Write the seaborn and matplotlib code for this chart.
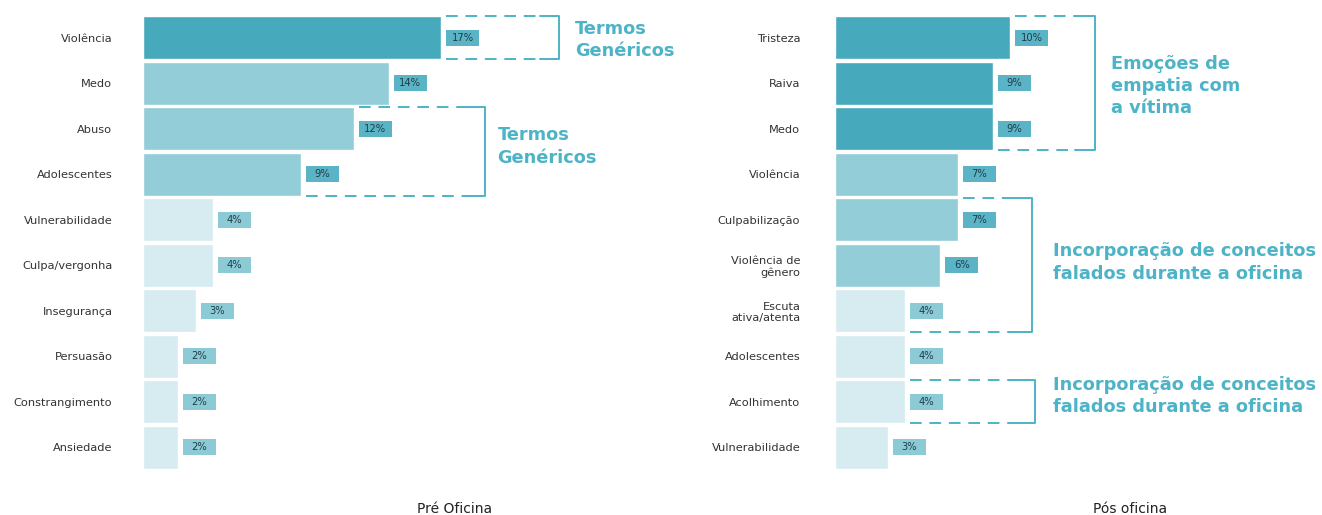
import pandas as pd
import matplotlib.pyplot as plt
import seaborn as sns
from matplotlib.patches import Rectangle

# Data (percent of mentions)
pre_labels = ["Violência", "Medo", "Abuso", "Adolescentes", "Vulnerabilidade",
              "Culpa/vergonha", "Insegurança", "Persuasão", "Constrangimento", "Ansiedade"]
pre_values = [17, 14, 12, 9, 4, 4, 3, 2, 2, 2]

pos_labels = ["Tristeza", "Raiva", "Medo", "Violência", "Culpabilização",
              "Violência de\ngênero", "Escuta\nativa/atenta", "Adolescentes",
              "Acolhimento", "Vulnerabilidade"]
pos_values = [10, 9, 9, 7, 7, 6, 4, 4, 4, 3]

pre_title = "Pré Oficina"
pos_title = "Pós oficina"

# annotation groups: (first row, last row, text)
pre_groups = [(0, 0, "Termos\nGenéricos"), (2, 3, "Termos\nGenéricos")]
pos_groups = [(0, 2, "Emoções de\nempatia com\na vítima"),
              (4, 6, "Incorporação de conceitos\nfalados durante a oficina"),
              (8, 8, "Incorporação de conceitos\nfalados durante a oficina")]

# styles
DARK, MID, LIGHT = "#47a9bc", "#92cdd8", "#d7ecf1"
BOX_DARK, BOX_LIGHT = "#5bb4c5", "#8ccbd6"
ACCENT = "#4db3c6"
pre_tones = [DARK, MID, MID, MID, LIGHT, LIGHT, LIGHT, LIGHT, LIGHT, LIGHT]
pos_tones = [DARK, DARK, DARK, MID, MID, MID, LIGHT, LIGHT, LIGHT, LIGHT]

sns.set_style("white")
plt.rcParams["font.family"] = ["DejaVu Sans"]

W, H = 1322, 515
fig = plt.figure(figsize=(W / 100, H / 100), dpi=100)

PX = 17.55  # pixels per percent
top_px, bot_px = 15, 470
ax_h = (bot_px - top_px) / H
ax_b = (H - bot_px) / H
ax1 = fig.add_axes([143 / W, ax_b, 20 * PX / W, ax_h])
ax2 = fig.add_axes([835 / W, ax_b, 20 * PX / W, ax_h])


def draw_panel(ax, labels, values, tones, groups, text_pos, pad):
    df = pd.DataFrame({"label": labels, "value": values})
    sns.barplot(data=df, x="value", y="label", hue="label", palette=tones,
                legend=False, width=0.94, orient="h", ax=ax, saturation=1)
    ax.set_xlim(0, 20)
    ax.set_ylim(len(labels) - 0.5, -0.5)
    ax.set_xlabel("")
    ax.set_ylabel("")
    ax.set_xticks([])
    ax.tick_params(axis="y", length=0, pad=pad, labelsize=8.2, labelcolor="#333333")
    sns.despine(ax=ax, left=True, bottom=True)

    bw, bh = 1.88, 0.36
    for i, (v, tone) in enumerate(zip(values, tones)):
        fc = BOX_LIGHT if tone == LIGHT else BOX_DARK
        ax.add_patch(Rectangle((v + 0.28, i - bh / 2), bw, bh, fc=fc, ec="none",
                               clip_on=False, zorder=3))
        ax.text(v + 0.28 + bw / 2, i, f"{v}%", ha="center", va="center",
                fontsize=7.2, color="#1f3d47", zorder=4)

    for (r0, r1, text), (xr, tx, ty) in zip(groups, text_pos):
        y_top, y_bot = r0 - 0.47, r1 + 0.47
        x_top = values[r0] + 0.28
        x_bot = values[r1] + 0.28
        solid = 1.1
        kw = dict(color=ACCENT, lw=1.4, clip_on=False)
        ax.plot([x_top, xr - solid], [y_top, y_top], ls=(0, (6, 4)), **kw)
        ax.plot([x_bot, xr - solid], [y_bot, y_bot], ls=(0, (6, 4)), **kw)
        ax.plot([xr - solid, xr, xr, xr - solid], [y_top, y_top, y_bot, y_bot],
                ls="-", **kw)
        ax.text(tx, ty, text, ha="left", va="center", fontsize=12.8,
                fontweight="bold", color=ACCENT, linespacing=1.3, clip_on=False)


draw_panel(ax1, pre_labels, pre_values, pre_tones, pre_groups,
           [(23.7, 24.6, 0.05), (19.5, 20.2, 2.39)], pad=22)
draw_panel(ax2, pos_labels, pos_values, pos_tones, pos_groups,
           [(14.8, 15.7, 1.06), (11.25, 12.4, 4.94), (11.4, 12.4, 7.87)], pad=25)

fig.text(455 / W, 2 / H, pre_title, ha="center", va="baseline", fontsize=10, color="#222222")
fig.text(1130 / W, 2 / H, pos_title, ha="center", va="baseline", fontsize=10, color="#222222")

fig.savefig("out.png", dpi=100)
